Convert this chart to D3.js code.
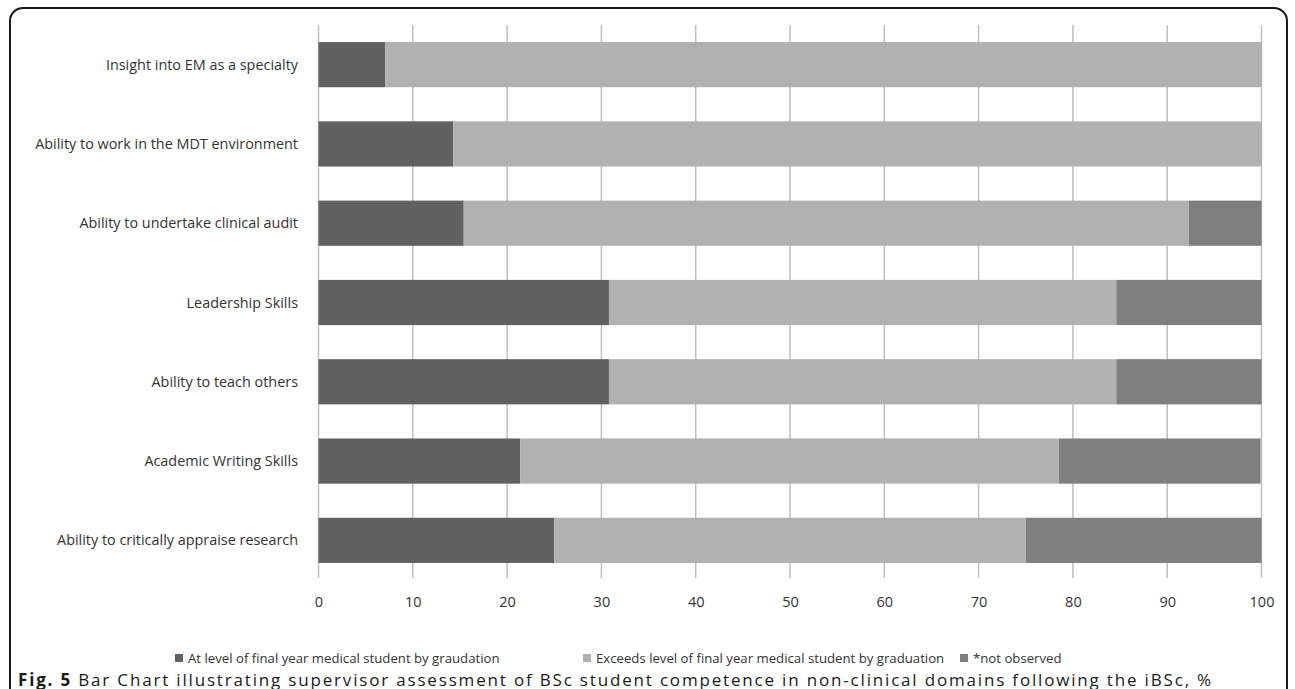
<!DOCTYPE html>
<html>
<head>
<meta charset="utf-8">
<script src="https://cdn.jsdelivr.net/npm/d3@7"></script>
<style>
  html, body { margin: 0; padding: 0; background: #fff; }
  svg { display: block; }
</style>
</head>
<body>
<svg id="chart" width="1295" height="689"></svg>
<script>
// Competence domains, top to bottom
const categories = [
  "Insight into EM as a specialty",
  "Ability to work in the MDT environment",
  "Ability to undertake clinical audit",
  "Leadership Skills",
  "Ability to teach others",
  "Academic Writing Skills",
  "Ability to critically appraise research"
];

// Percentages per series, aligned with categories
const atLevel      = [7.1, 14.3, 15.4, 30.8, 30.8, 21.4, 25.0];
const exceedsLevel = [92.9, 85.7, 76.9, 53.8, 53.8, 57.1, 50.0];
const notObserved  = [0.0, 0.0, 7.7, 15.4, 15.4, 21.4, 25.0];

const seriesNames = [
  "At level of final year medical student by graudation",
  "Exceeds level of final year medical student by graduation",
  "*not observed"
];
const seriesColors = ["#616161", "#b1b1b1", "#7f7f7f"];

const xTicks = [0, 10, 20, 30, 40, 50, 60, 70, 80, 90, 100];

const captionBold = "Fig. 5";
const captionText = " Bar Chart illustrating supervisor assessment of BSc student competence in non-clinical domains following the iBSc, %";

const svg = d3.select("#chart");
const font = "'Open Sans', 'Liberation Sans', sans-serif";

// Rounded frame around the figure
svg.append("rect")
  .attr("x", 10).attr("y", 8)
  .attr("width", 1277).attr("height", 700)
  .attr("rx", 13).attr("ry", 13)
  .attr("fill", "none").attr("stroke", "#1a1a1a").attr("stroke-width", 2);

const x = d3.scaleLinear().domain([0, 100]).range([318.5, 1261.5]);
const y = d3.scaleBand().domain(categories).range([25, 580])
  .paddingInner(0.43).paddingOuter(0.215);

// Vertical gridlines
svg.append("g").selectAll("line").data(xTicks).join("line")
  .attr("x1", d => x(d)).attr("x2", d => x(d))
  .attr("y1", 25).attr("y2", 578)
  .attr("stroke", "#bfbfbf").attr("stroke-width", 1.5);

// Stacked bars
const rows = categories.map((c, i) => ({
  cat: c, values: [atLevel[i], exceedsLevel[i], notObserved[i]]
}));
const stack = d3.stack().keys([0, 1, 2]).value((d, k) => d.values[k]);
const layers = stack(rows);

svg.append("g").selectAll("g").data(layers).join("g")
  .attr("fill", (d, i) => seriesColors[i])
  .selectAll("rect").data(d => d).join("rect")
  .attr("x", d => x(d[0]))
  .attr("width", d => Math.max(0, x(d[1]) - x(d[0])))
  .attr("y", d => y(d.data.cat))
  .attr("height", y.bandwidth());

// Category labels
svg.append("g").selectAll("text").data(categories).join("text")
  .attr("x", 298)
  .attr("y", d => y(d) + y.bandwidth() / 2)
  .attr("dy", "0.35em")
  .attr("text-anchor", "end")
  .attr("font-family", font).attr("font-size", 14.4)
  .attr("fill", "#333")
  .text(d => d);

// X axis tick labels
const xAxis = d3.axisBottom(x).tickValues(xTicks).tickSize(0).tickPadding(0);
const gx = svg.append("g").attr("transform", "translate(0,597)").call(xAxis);
gx.select(".domain").remove();
gx.selectAll("text")
  .attr("font-family", font).attr("font-size", 14.5)
  .attr("fill", "#333").attr("dy", "0.71em");

// Legend
const legendX = [175, 583, 960];
const legend = svg.append("g").selectAll("g").data(seriesNames).join("g")
  .attr("transform", (d, i) => `translate(${legendX[i]},658)`);
legend.append("rect")
  .attr("x", 0).attr("y", -4).attr("width", 8).attr("height", 8)
  .attr("fill", (d, i) => seriesColors[i]);
legend.append("text")
  .attr("x", 13).attr("y", 0).attr("dy", "0.35em")
  .attr("font-family", font).attr("font-size", 13.2)
  .attr("fill", "#333")
  .text(d => d);

// Caption, letter-spaced so it spans the frame width
const cap = svg.append("text")
  .attr("x", 18).attr("y", 685.5)
  .attr("font-family", font).attr("font-size", 17)
  .attr("fill", "#1a1a1a");
cap.append("tspan").attr("font-weight", "bold").text(captionBold);
cap.append("tspan").text(captionText);
const capW = cap.node().getComputedTextLength();
const nChars = (captionBold + captionText).length;
cap.attr("letter-spacing", ((1195 - capW) / nChars).toFixed(3) + "px");
</script>
</body>
</html>
